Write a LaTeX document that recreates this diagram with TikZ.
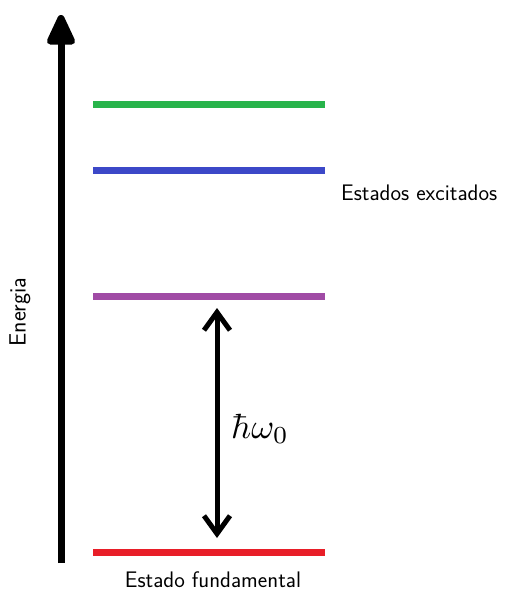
\RequirePackage{fix-cm}
\documentclass[tikz,border=0pt]{standalone}
\usepackage{amsmath,amssymb}
\usepackage{fontspec}
\usepackage{xcolor}
\usetikzlibrary{arrows.meta, positioning}

\definecolor{lvgreen}{RGB}{40,180,75}
\definecolor{lvblue}{RGB}{60,72,200}
\definecolor{lvpurple}{RGB}{160,75,165}
\definecolor{lvred}{RGB}{232,30,40}

\begin{document}
\begin{tikzpicture}[
  x=1pt, y=-1pt,
  level/.style={line width=7pt},
  lbl/.style={font=\sffamily\fontsize{22.5}{27}\selectfont, inner sep=0pt},
  axis/.style={line width=7pt, -{Triangle[length=35pt, width=30pt, round]}},
  gap/.style={line width=5pt, {Straight Barb[length=18pt, width=26pt, line width=5pt]}-{Straight Barb[length=18pt, width=26pt, line width=5pt]}}
]
\useasboundingbox (0,0) rectangle (504,592);

% energy axis
\coordinate (ebot) at (61,563);
\coordinate (etop) at (61,15);
\draw[axis] (ebot) -- (etop);
\node[lbl, font=\sffamily\fontsize{23.5}{28}\selectfont, rotate=90] (energia) at (20,312) {Energia};

% levels
\coordinate (g1) at (93,104);  \coordinate (g2) at (325,104);
\coordinate (b1) at (93,170);  \coordinate (b2) at (325,170);
\coordinate (p1) at (93,296);  \coordinate (p2) at (325,296);
\coordinate (r1) at (93,552);  \coordinate (r2) at (325,552);
\draw[level, lvgreen]  (g1) -- (g2);
\draw[level, lvblue]   (b1) -- (b2);
\draw[level, lvpurple] (p1) -- (p2);
\draw[level, lvred]    (r1) -- (r2);

\node[lbl, anchor=base west] (excit) at (341,200) {Estados excitados};
\node[lbl, anchor=base] (fund) at (213,587) {Estado fundamental};

% transition
\coordinate (tup) at (217,308);
\coordinate (tdn) at (217,538);
\draw[gap] (tdn) -- (tup);
\node[anchor=base west, inner sep=0pt] (hw) at (231,438) {\scalebox{3.5}{$\hbar\omega_0$}};
\end{tikzpicture}
\end{document}
